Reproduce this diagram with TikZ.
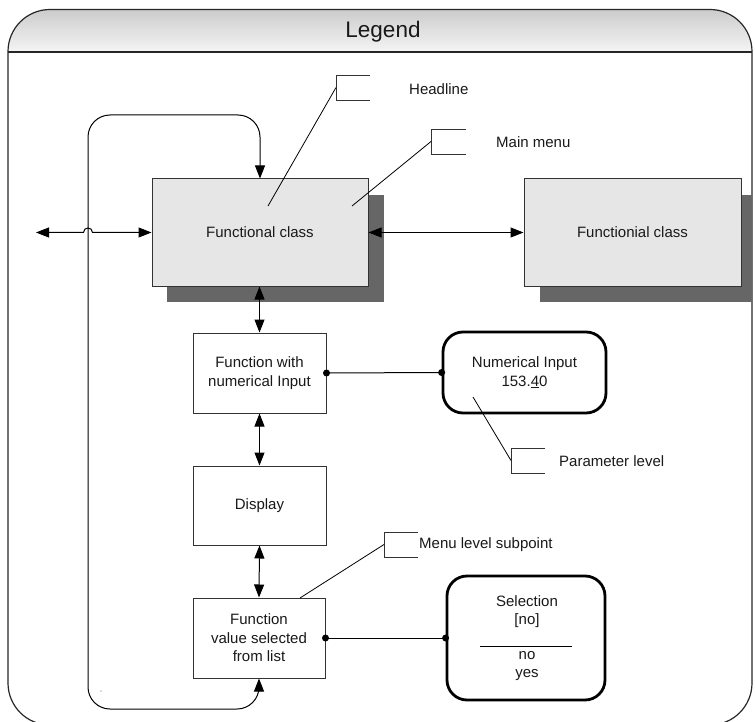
\documentclass[tikz,border=0pt]{standalone}
\usepackage{fontspec}
\setmainfont{Liberation Sans}
\usetikzlibrary{arrows.meta}
\definecolor{boxgray}{RGB}{230,230,230}
\definecolor{shadowgray}{RGB}{102,102,102}
\definecolor{linegray}{RGB}{51,51,51}
\definecolor{txtcol}{RGB}{25,25,25}
\begin{document}
\begin{tikzpicture}[x=1pt,y=-1pt,
  txt/.style={inner sep=0pt, align=center, text=txtcol, font=\fontsize{15}{18.5}\selectfont},
  box/.style={txt, draw=linegray, line width=1pt, fill=white, minimum width=133pt, minimum height=80pt},
  clsbox/.style={box, fill=boxgray, minimum width=216pt, minimum height=107pt},
  rbox/.style={txt, draw=black, line width=2.8pt, rounded corners=20pt, fill=white},
  conn/.style={draw=black, line width=1pt, {Triangle[length=13pt,width=10pt]}-{Triangle[length=13pt,width=10pt]}},
  plain/.style={draw=black, line width=1pt},
  callout/.style={draw=linegray, line width=0.9pt},
  leader/.style={draw=black, line width=0.8pt},
  shadowbox/.style={fill=shadowgray},
  lbl/.style={txt, anchor=west}
]
\clip (0,0) rectangle (755,722);

% outer frame with header
\begin{scope}
  \clip[rounded corners=42pt] (8,9.5) rectangle (752,760);
  \shade[top color=black!20, bottom color=black!4] (8,9.5) rectangle (752,52);
\end{scope}
\draw[draw=black!85, line width=1.2pt, rounded corners=42pt] (8,9.5) rectangle (752,725);
\draw[draw=black!85, line width=1.2pt] (8,52) -- (752,52);
\node[txt, font=\fontsize{22.5}{26}\selectfont] (legend) at (383,31.5) {Legend};

% shadows
\fill[shadowbox] (167,195) rectangle (384,302);
\fill[shadowbox] (540,195) rectangle (752,302);

% functional classes
\node[clsbox] (main) at (260,232.5) {Functional class};
\node[clsbox, minimum width=217pt] (right) at (632.5,232.5) {Functionial class};

% column boxes
\node[box] (fin) at (259.5,373) {Function with\\numerical Input};
\node[box, minimum height=79pt] (disp) at (259.5,505.5) {Display};
\node[box, minimum width=132pt] (fval) at (259,638) {Function\\value selected\\from list};

% rounded parameter boxes
\node[rbox, minimum width=163pt, minimum height=81pt] (numin) at (524.5,372.5) {Numerical Input\\153.\underline{4}0};
\node[rbox, minimum width=158pt, minimum height=124pt] (sel) at (526,638) {};
\node[txt] (seltop) at (527,611.5) {Selection\\{}[no]};
\node[txt] (selbot) at (527,666) {no\\yes};
\draw[line width=1pt] (480,646) -- (572,646);

% connectors
\coordinate (leftend) at (36,232.5);
\draw[conn] (main.west) -- (92.5,232.5) .. controls (92.5,226.5) and (83.5,226.5) .. (83.5,232.5) -- (leftend);
\draw[conn] (main.east) -- (right.west);
\draw[conn] (main.south -| fin.north) -- (fin.north);
\draw[conn] (fin.south) -- (disp.north);
\draw[conn] (disp.south) -- (fval.north);
\draw[conn, rounded corners=22pt] (fval.south) -- (259,709) -- (88,709) -- (88,115) -- (260,115) -- (main.north);

\draw[plain] (fin.east) -- (numin.west);
\fill (fin.east) circle (3.5pt) (numin.west) circle (3.5pt);
\draw[plain] (fval.east) -- (sel.west);
\fill (fval.east) circle (3.5pt) (sel.west) circle (3.5pt);

% callouts
\draw[callout] (370,75) -- (336,75) -- (336,100) -- (370,100);
\coordinate (c1) at (336,87.5);
\coordinate (t1) at (268,206);
\draw[leader] (c1) -- (t1);
\node[lbl] (l1) at (409,89) {Headline};

\draw[callout] (466,129) -- (431,129) -- (431,154) -- (466,154);
\coordinate (c2) at (431,141.5);
\coordinate (t2) at (352,206);
\draw[leader] (c2) -- (t2);
\node[lbl] (l2) at (496,142) {Main menu};

\draw[callout] (545,448) -- (511,448) -- (511,473) -- (545,473);
\coordinate (c3) at (511,460.5);
\coordinate (t3) at (473,397);
\draw[leader] (c3) -- (t3);
\node[lbl] (l3) at (559,461) {Parameter level};

\draw[callout] (418,532) -- (384,532) -- (384,557) -- (418,557);
\coordinate (c4) at (384,544.5);
\coordinate (t4) at (300,598);
\draw[leader] (c4) -- (t4);
\node[lbl] (l4) at (419,545) {Menu level subpoint};

% stray dot
\fill[black!60] (101,691) circle (0.7pt);
\end{tikzpicture}
\end{document}
